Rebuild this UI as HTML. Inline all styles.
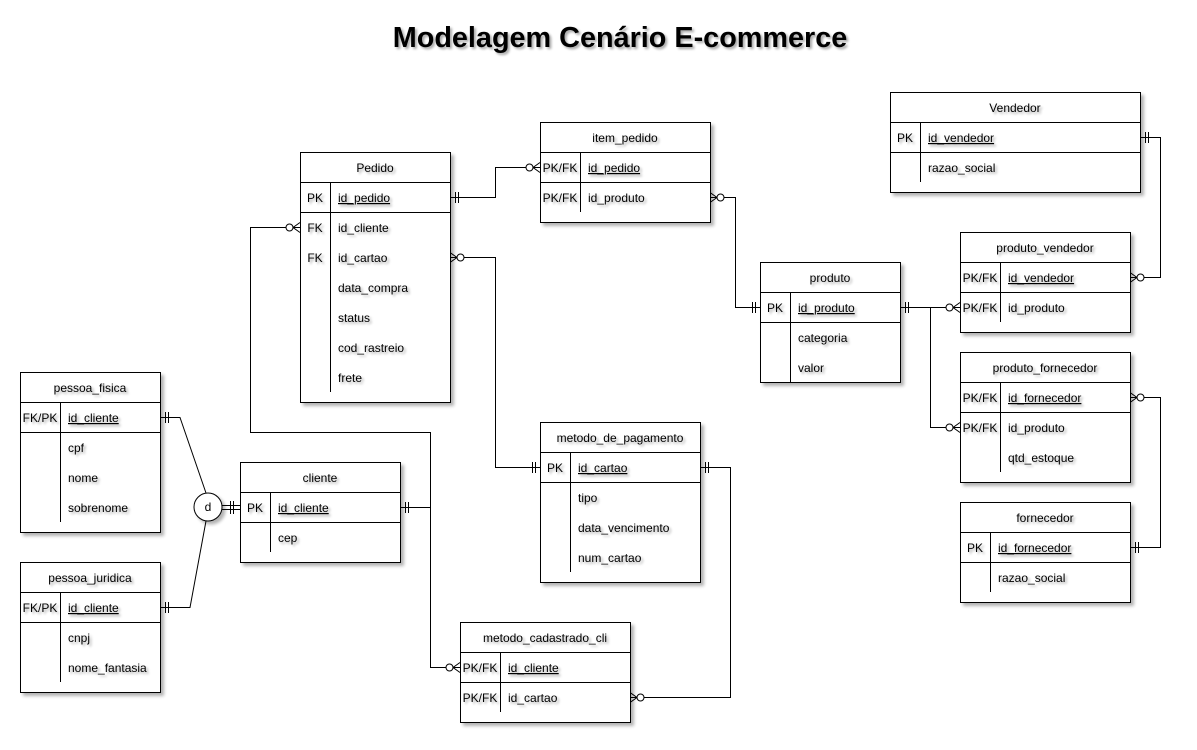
<!DOCTYPE html>
<html><head><meta charset="utf-8"><style>
html,body{margin:0;padding:0;background:#fff;}
svg{display:block;}
text{font-family:"Liberation Sans",Arial,sans-serif;font-size:12px;fill:#000;}
.title{font-size:28.8px;font-weight:bold;}
.box{fill:#fff;stroke:#000;stroke-width:1;}
.ln{stroke:#000;stroke-width:1;fill:none;}
</style></head><body>
<svg width="1197" height="750" viewBox="0 0 1197 750" xmlns="http://www.w3.org/2000/svg">
<defs>
<filter id="sh" x="-10%" y="-10%" width="130%" height="130%">
<feGaussianBlur in="SourceAlpha" stdDeviation="1.5"/>
<feOffset dx="3" dy="3" result="o"/>
<feComponentTransfer><feFuncA type="linear" slope="0.3"/></feComponentTransfer>
<feMerge><feMergeNode/><feMergeNode in="SourceGraphic"/></feMerge>
</filter>
<filter id="tsh" x="-5%" y="-20%" width="115%" height="160%">
<feGaussianBlur in="SourceAlpha" stdDeviation="1.2"/>
<feOffset dx="2" dy="2"/>
<feComponentTransfer><feFuncA type="linear" slope="0.35"/></feComponentTransfer>
<feMerge><feMergeNode/><feMergeNode in="SourceGraphic"/></feMerge>
</filter>
</defs>

<text x="620" y="47" text-anchor="middle" class="title" filter="url(#tsh)">Modelagem Cenário E-commerce</text>

<g class="ln">
<path d="M450.5 197.5 H495.5 V167.5 H540"/>
<path d="M710 197.5 H735.5 V307.5 H760"/>
<path d="M900 307.5 H960"/>
<path d="M930.5 307.5 V427.5 H960"/>
<path d="M1140 137.5 H1160.5 V277.5 H1130"/>
<path d="M1130 547.5 H1160.5 V397.5 H1130"/>
<path d="M300 227.5 H250.5 V432.5 H430.5 V667.5 H460"/>
<path d="M400 507.5 H430.5"/>
<path d="M450 257.5 H495.5 V467.5 H540"/>
<path d="M700 467.5 H730.5 V697.5 H630"/>
<path d="M160 417.5 H180 L206 493"/>
<path d="M160 607.5 H190 L206 521"/>
<path d="M222 505.5 H240 M222 509.5 H240"/>
</g>
<g class="ln">
<path d="M455.5 192 V203 M458.5 192 V203"/>
<path d="M755.5 302 V313 M752.5 302 V313"/>
<path d="M905.5 302 V313 M908.5 302 V313"/>
<path d="M1145.5 132 V143 M1148.5 132 V143"/>
<path d="M1135.5 542 V553 M1138.5 542 V553"/>
<path d="M405.5 502 V513 M408.5 502 V513"/>
<path d="M535.5 462 V473 M532.5 462 V473"/>
<path d="M705.5 462 V473 M708.5 462 V473"/>
<path d="M165.5 412 V423 M168.5 412 V423"/>
<path d="M165.5 602 V613 M168.5 602 V613"/>
<path d="M230.5 501 V514 M233.5 501 V514"/>
</g>
<g class="ln" fill="#fff">
<path d="M540 162.5 L533 167.5 L540 172.5"/><circle cx="529.5" cy="167.5" r="3.5" fill="#fff"/>
<path d="M710 192.5 L717 197.5 L710 202.5"/><circle cx="720.5" cy="197.5" r="3.5" fill="#fff"/>
<path d="M960 302.5 L953 307.5 L960 312.5"/><circle cx="949.5" cy="307.5" r="3.5" fill="#fff"/>
<path d="M960 422.5 L953 427.5 L960 432.5"/><circle cx="949.5" cy="427.5" r="3.5" fill="#fff"/>
<path d="M1130 272.5 L1137 277.5 L1130 282.5"/><circle cx="1140.5" cy="277.5" r="3.5" fill="#fff"/>
<path d="M1130 392.5 L1137 397.5 L1130 402.5"/><circle cx="1140.5" cy="397.5" r="3.5" fill="#fff"/>
<path d="M300 222.5 L293 227.5 L300 232.5"/><circle cx="289.5" cy="227.5" r="3.5" fill="#fff"/>
<path d="M460 662.5 L453 667.5 L460 672.5"/><circle cx="449.5" cy="667.5" r="3.5" fill="#fff"/>
<path d="M450 252.5 L457 257.5 L450 262.5"/><circle cx="460.5" cy="257.5" r="3.5" fill="#fff"/>
<path d="M630 692.5 L637 697.5 L630 702.5"/><circle cx="640.5" cy="697.5" r="3.5" fill="#fff"/>
</g>
<circle cx="208" cy="507" r="14" class="box" filter="url(#sh)"/>
<text x="208" y="511" text-anchor="middle">d</text>

<g filter="url(#sh)"><rect x="300.5" y="152.5" width="150" height="250" class="box"/></g>
<g class="ln"><path d="M300 182.5 H450 M300 212.5 H450 M330.5 182 V392"/></g>
<g filter="url(#tsh)">
<text x="375" y="172" text-anchor="middle">Pedido</text>
<text x="315" y="202" text-anchor="middle">PK</text><text x="338" y="202" text-decoration="underline">id_pedido</text>
<text x="315" y="232" text-anchor="middle">FK</text><text x="338" y="232">id_cliente</text>
<text x="315" y="262" text-anchor="middle">FK</text><text x="338" y="262">id_cartao</text>
<text x="338" y="292">data_compra</text>
<text x="338" y="322">status</text>
<text x="338" y="352">cod_rastreio</text>
<text x="338" y="382">frete</text>
</g>

<g filter="url(#sh)"><rect x="540.5" y="122.5" width="170" height="100" class="box"/></g>
<g class="ln"><path d="M540 152.5 H710 M540 182.5 H710 M580.5 152 V212"/></g>
<g filter="url(#tsh)">
<text x="625" y="142" text-anchor="middle">item_pedido</text>
<text x="560" y="172" text-anchor="middle">PK/FK</text><text x="588" y="172" text-decoration="underline">id_pedido</text>
<text x="560" y="202" text-anchor="middle">PK/FK</text><text x="588" y="202">id_produto</text>
</g>

<g filter="url(#sh)"><rect x="890.5" y="92.5" width="250" height="100" class="box"/></g>
<g class="ln"><path d="M890 122.5 H1140 M890 152.5 H1140 M920.5 122 V182"/></g>
<g filter="url(#tsh)">
<text x="1015" y="112" text-anchor="middle">Vendedor</text>
<text x="905" y="142" text-anchor="middle">PK</text><text x="928" y="142" text-decoration="underline">id_vendedor</text>
<text x="928" y="172">razao_social</text>
</g>

<g filter="url(#sh)"><rect x="960.5" y="232.5" width="170" height="100" class="box"/></g>
<g class="ln"><path d="M960 262.5 H1130 M960 292.5 H1130 M1000.5 262 V322"/></g>
<g filter="url(#tsh)">
<text x="1045" y="252" text-anchor="middle">produto_vendedor</text>
<text x="980" y="282" text-anchor="middle">PK/FK</text><text x="1008" y="282" text-decoration="underline">id_vendedor</text>
<text x="980" y="312" text-anchor="middle">PK/FK</text><text x="1008" y="312">id_produto</text>
</g>

<g filter="url(#sh)"><rect x="760.5" y="262.5" width="140" height="120" class="box"/></g>
<g class="ln"><path d="M760 292.5 H900 M760 322.5 H900 M790.5 292 V382"/></g>
<g filter="url(#tsh)">
<text x="830" y="282" text-anchor="middle">produto</text>
<text x="775" y="312" text-anchor="middle">PK</text><text x="798" y="312" text-decoration="underline">id_produto</text>
<text x="798" y="342">categoria</text>
<text x="798" y="372">valor</text>
</g>

<g filter="url(#sh)"><rect x="960.5" y="352.5" width="170" height="130" class="box"/></g>
<g class="ln"><path d="M960 382.5 H1130 M960 412.5 H1130 M1000.5 382 V472"/></g>
<g filter="url(#tsh)">
<text x="1045" y="372" text-anchor="middle">produto_fornecedor</text>
<text x="980" y="402" text-anchor="middle">PK/FK</text><text x="1008" y="402" text-decoration="underline">id_fornecedor</text>
<text x="980" y="432" text-anchor="middle">PK/FK</text><text x="1008" y="432">id_produto</text>
<text x="1008" y="462">qtd_estoque</text>
</g>

<g filter="url(#sh)"><rect x="960.5" y="502.5" width="170" height="100" class="box"/></g>
<g class="ln"><path d="M960 532.5 H1130 M960 562.5 H1130 M990.5 532 V592"/></g>
<g filter="url(#tsh)">
<text x="1045" y="522" text-anchor="middle">fornecedor</text>
<text x="975" y="552" text-anchor="middle">PK</text><text x="998" y="552" text-decoration="underline">id_fornecedor</text>
<text x="998" y="582">razao_social</text>
</g>

<g filter="url(#sh)"><rect x="20.5" y="372.5" width="140" height="160" class="box"/></g>
<g class="ln"><path d="M20 402.5 H160 M20 432.5 H160 M60.5 402 V522"/></g>
<g filter="url(#tsh)">
<text x="90" y="392" text-anchor="middle">pessoa_fisica</text>
<text x="40" y="422" text-anchor="middle">FK/PK</text><text x="68" y="422" text-decoration="underline">id_cliente</text>
<text x="68" y="452">cpf</text>
<text x="68" y="482">nome</text>
<text x="68" y="512">sobrenome</text>
</g>

<g filter="url(#sh)"><rect x="20.5" y="562.5" width="140" height="130" class="box"/></g>
<g class="ln"><path d="M20 592.5 H160 M20 622.5 H160 M60.5 592 V682"/></g>
<g filter="url(#tsh)">
<text x="90" y="582" text-anchor="middle">pessoa_juridica</text>
<text x="40" y="612" text-anchor="middle">FK/PK</text><text x="68" y="612" text-decoration="underline">id_cliente</text>
<text x="68" y="642">cnpj</text>
<text x="68" y="672">nome_fantasia</text>
</g>

<g filter="url(#sh)"><rect x="240.5" y="462.5" width="160" height="100" class="box"/></g>
<g class="ln"><path d="M240 492.5 H400 M240 522.5 H400 M270.5 492 V552"/></g>
<g filter="url(#tsh)">
<text x="320" y="482" text-anchor="middle">cliente</text>
<text x="255" y="512" text-anchor="middle">PK</text><text x="278" y="512" text-decoration="underline">id_cliente</text>
<text x="278" y="542">cep</text>
</g>

<g filter="url(#sh)"><rect x="540.5" y="422.5" width="160" height="160" class="box"/></g>
<g class="ln"><path d="M540 452.5 H700 M540 482.5 H700 M570.5 452 V572"/></g>
<g filter="url(#tsh)">
<text x="620" y="442" text-anchor="middle">metodo_de_pagamento</text>
<text x="555" y="472" text-anchor="middle">PK</text><text x="578" y="472" text-decoration="underline">id_cartao</text>
<text x="578" y="502">tipo</text>
<text x="578" y="532">data_vencimento</text>
<text x="578" y="562">num_cartao</text>
</g>

<g filter="url(#sh)"><rect x="460.5" y="622.5" width="170" height="100" class="box"/></g>
<g class="ln"><path d="M460 652.5 H630 M460 682.5 H630 M500.5 652 V712"/></g>
<g filter="url(#tsh)">
<text x="545" y="642" text-anchor="middle">metodo_cadastrado_cli</text>
<text x="480" y="672" text-anchor="middle">PK/FK</text><text x="508" y="672" text-decoration="underline">id_cliente</text>
<text x="480" y="702" text-anchor="middle">PK/FK</text><text x="508" y="702">id_cartao</text>
</g>
</svg>
</body></html>
